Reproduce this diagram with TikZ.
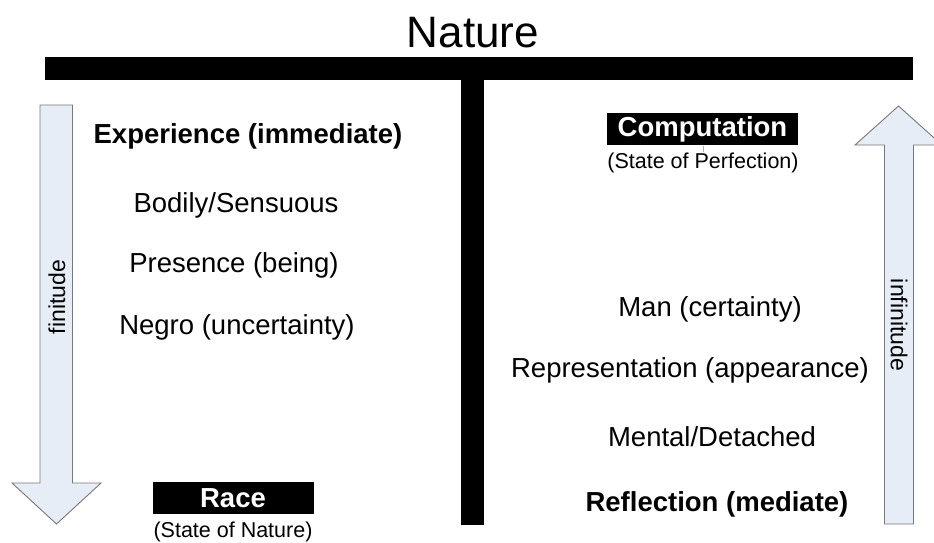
\documentclass[tikz,border=0pt]{standalone}
\usepackage{fontspec}
\setmainfont{Liberation Sans}
\definecolor{arrowfill}{RGB}{230,237,247}
\definecolor{arrowline}{RGB}{120,120,120}
\definecolor{tickblue}{RGB}{150,180,220}
\tikzset{
  lbl/.style={anchor=base,inner sep=0pt,font=\fontsize{27.5}{33}\selectfont},
  bold/.style={lbl,font=\fontsize{27.5}{33}\selectfont\bfseries},
  small/.style={anchor=base,inner sep=0pt,font=\fontsize{21.5}{26}\selectfont},
  blackbox/.style={fill=black,text=white,inner sep=0pt,minimum height=32pt,font=\fontsize{27.5}{33}\selectfont\bfseries},
  bigarrow/.style={fill=arrowfill,draw=arrowline,line width=0.9pt,line join=miter},
  side/.style={inner sep=0pt,font=\fontsize{23}{27}\selectfont}
}
\begin{document}
\begin{tikzpicture}[x=1pt,y=-1pt]
\useasboundingbox[fill=white] (0,0) rectangle (934,542);
% T bars
\fill[black] (45,57) rectangle (913,80);
\fill[black] (461,80) rectangle (484,525);
\node[anchor=base,inner sep=0pt,font=\fontsize{44}{50}\selectfont] (nature) at (473,47) {Nature};
% left arrow (down)
\draw[bigarrow] (40,105) -- (72.5,105) -- (72.5,483) -- (101,483) -- (56.5,524) -- (12,483) -- (40,483) -- cycle;
\node[side,rotate=90] (finitude) at (57,297) {finitude};
% right arrow (up)
\draw[bigarrow] (884.5,524) -- (913.5,524) -- (913.5,145) -- (942,145) -- (898.5,106) -- (855,145) -- (884.5,145) -- cycle;
\node[side,rotate=-90] (infinitude) at (899,325) {infinitude};
% left column
\node[bold] (exp) at (248,143) {Experience (immediate)};
\node[lbl] (bodily) at (236,212) {Bodily/Sensuous};
\node[lbl] (presence) at (234,272) {Presence (being)};
\node[lbl] (negro) at (237,334) {Negro (uncertainty)};
\node[blackbox,minimum width=161pt] (race) at (233,498) {Race};
\node[small] (son) at (233,537) {(State of Nature)};
% right column
\node[blackbox,minimum width=191pt] (comp) at (702.5,129) {Computation};
\node[small] (sop) at (703,168) {(State of Perfection)};
\draw[tickblue,line width=0.8pt] (comp.south -| sop.north) ++(0.5,1) coordinate (t1) -- ++(0,6) coordinate (t2);
\node[lbl] (man) at (710,316) {Man (certainty)};
\node[lbl] (repr) at (690,377) {Representation (appearance)};
\node[lbl] (mental) at (712,446) {Mental/Detached};
\node[bold] (refl) at (717,511) {Reflection (mediate)};
\end{tikzpicture}
\end{document}
